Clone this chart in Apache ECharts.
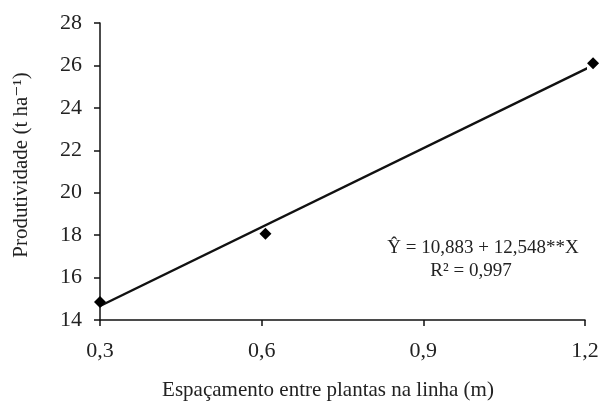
<!DOCTYPE html>
<html>
<head>
<meta charset="utf-8">
<script src="https://cdn.jsdelivr.net/npm/echarts@6/dist/echarts.min.js"></script>
<style>html,body{margin:0;padding:0;background:#fff}#c{width:602px;height:408px}</style>
</head>
<body>
<div id="c"></div>
<script>
const pointX = [0.3, 0.607, 1.215];
const pointY = [14.85, 18.07, 26.1];
const lineX = [0.3, 1.215];
const lineY = [14.66, 26.0];
const xTicks = [0.3, 0.6, 0.9, 1.2];
const yTicks = [14, 16, 18, 20, 22, 24, 26, 28];
const xTitle = 'Espaçamento entre plantas na linha (m)';
const yTitle = 'Produtividade (t ha\u207B\u00B9)';
const eqLine1 = '\u0176 = 10,883 + 12,548**X';
const eqLine2 = 'R\u00B2 = 0,997';

const font = '"Liberation Serif","DejaVu Serif",serif';
const chart = echarts.init(document.getElementById('c'), null, {renderer: 'canvas'});
chart.setOption({
  animation: false,
  backgroundColor: '#fff',
  grid: {left: 100, right: 17, top: 23, bottom: 88, containLabel: false},
  xAxis: {
    type: 'value', min: 0.3, max: 1.2, interval: 0.3,
    axisLine: {onZero: false, lineStyle: {color: '#111', width: 1.5}},
    axisTick: {show: true, length: 6, lineStyle: {color: '#111', width: 1.5}},
    splitLine: {show: false},
    axisLabel: {margin: 20, color: '#222', fontFamily: font, fontSize: 22,
      formatter: v => v.toFixed(1).replace('.', ',')}
  },
  yAxis: {
    type: 'value', min: 14, max: 28, interval: 2,
    axisLine: {onZero: false, lineStyle: {color: '#111', width: 1.5}},
    axisTick: {show: true, length: 6, lineStyle: {color: '#111', width: 1.5}},
    splitLine: {show: false},
    axisLabel: {margin: 18, color: '#222', fontFamily: font, fontSize: 22}
  },
  series: [
    {
      type: 'line', data: lineX.map((x, i) => [x, lineY[i]]),
      showSymbol: false, symbol: 'none', clip: false,
      lineStyle: {color: '#111', width: 2.5}, z: 2
    },
    {
      type: 'scatter', data: pointX.map((x, i) => [x, pointY[i]]),
      symbol: 'diamond', symbolSize: [12, 12], clip: false,
      itemStyle: {color: '#000', opacity: 1}, z: 3
    }
  ],
  graphic: [
    {type: 'text', x: 328, y: 390, style: {text: xTitle, font: '21px ' + font, fill: '#222', align: 'center', verticalAlign: 'middle'}},
    {type: 'text', rotation: Math.PI / 2, x: 11, y: 165,
      style: {text: yTitle, font: '21px ' + font, fill: '#222', align: 'center', verticalAlign: 'top'}},
    {type: 'text', x: 483, y: 248, style: {text: eqLine1, font: '19px ' + font, fill: '#222', align: 'center', verticalAlign: 'middle'}},
    {type: 'text', x: 471, y: 271, style: {text: eqLine2, font: '19px ' + font, fill: '#222', align: 'center', verticalAlign: 'middle'}}
  ]
});
</script>
</body>
</html>
